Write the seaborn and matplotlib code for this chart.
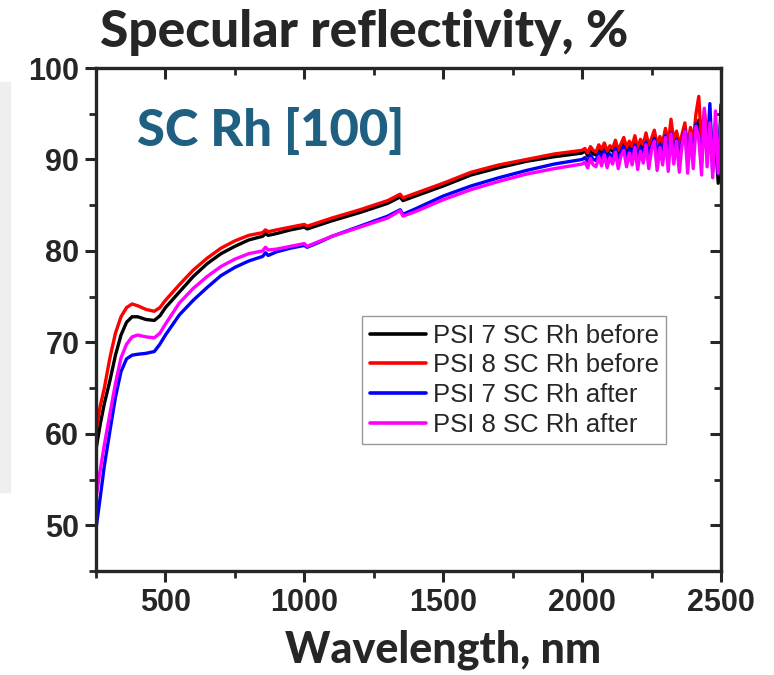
import pandas as pd
import matplotlib.pyplot as plt
import seaborn as sns
from matplotlib.patches import Rectangle
from matplotlib.ticker import MultipleLocator

# Wavelength grid (nm): smooth part, then the noisy tail
wavelength = [250, 265, 280, 300, 320, 340, 360, 380, 400, 430, 460, 480, 500, 550, 600,
              650, 700, 750, 800, 850, 860, 870, 900, 950, 1000, 1010, 1050, 1100, 1200,
              1300, 1345, 1355, 1400, 1500, 1600, 1700, 1800, 1900, 2000,
              2010, 2020, 2030, 2040, 2050, 2060, 2070, 2080, 2090, 2100,
              2110, 2120, 2130, 2140, 2150, 2160, 2170, 2180, 2190, 2200,
              2210, 2220, 2230, 2240, 2250, 2260, 2270, 2280, 2290, 2300,
              2310, 2320, 2330, 2340, 2350, 2360, 2370, 2380, 2390, 2400,
              2410, 2420, 2430, 2440, 2450, 2460, 2470, 2480, 2490, 2500]

psi7_before = [58.3, 61.0, 63.3, 65.8, 68.6, 70.8, 72.2, 72.8, 72.8, 72.5, 72.4, 72.9, 73.8, 75.5, 77.2,
               78.6, 79.7, 80.5, 81.2, 81.6, 81.9, 81.7, 81.9, 82.3, 82.6, 82.4, 82.8, 83.3, 84.2,
               85.2, 85.9, 85.5, 86.0, 87.1, 88.3, 89.1, 89.8, 90.3, 90.7,
               91.0, 90.4, 91.1, 90.6, 90.5, 91.3, 90.7, 91.5, 90.6, 91.2,
               90.9, 91.8, 90.7, 91.4, 92.0, 91.0, 91.7, 91.0, 92.2, 90.9,
               91.9, 91.3, 92.5, 91.1, 92.0, 92.8, 91.2, 92.1, 91.4, 93.0,
               91.3, 93.2, 91.6, 92.7, 91.1, 92.4, 93.3, 91.0, 93.0, 91.4,
               93.8, 94.3, 90.8, 94.0, 91.0, 93.5, 89.6, 92.0, 87.4, 96.0]

psi8_before = [60.3, 63.0, 65.0, 68.3, 71.0, 72.8, 73.8, 74.2, 74.0, 73.6, 73.4, 73.8, 74.6, 76.3, 77.9,
               79.2, 80.3, 81.1, 81.7, 82.0, 82.3, 82.1, 82.3, 82.6, 82.9, 82.7, 83.1, 83.6, 84.5,
               85.5, 86.2, 85.8, 86.3, 87.4, 88.6, 89.4, 90.0, 90.6, 91.0,
               91.2, 90.7, 91.4, 91.0, 90.8, 91.6, 91.1, 91.8, 90.9, 91.5,
               91.2, 92.1, 91.0, 91.7, 92.4, 91.3, 92.0, 91.4, 92.6, 91.2,
               92.2, 91.6, 92.9, 91.5, 92.3, 93.2, 91.6, 92.5, 91.8, 93.4,
               91.7, 94.4, 92.0, 93.1, 91.5, 92.8, 94.0, 91.4, 93.5, 92.0,
               95.0, 96.9, 91.6, 95.4, 92.3, 94.6, 90.2, 93.8, 89.3, 91.0]

psi7_after = [49.6, 53.0, 56.5, 60.3, 64.0, 66.8, 68.2, 68.6, 68.7, 68.8, 69.0, 69.8, 70.8, 73.0, 74.6,
              76.0, 77.3, 78.2, 78.9, 79.4, 79.8, 79.5, 79.9, 80.3, 80.6, 80.4, 80.9, 81.6, 82.7,
              83.8, 84.5, 84.0, 84.6, 86.0, 87.1, 88.0, 88.8, 89.5, 90.0,
              90.2, 89.8, 90.5, 90.0, 89.9, 90.7, 90.1, 90.9, 90.0, 90.6,
              90.2, 91.2, 90.0, 90.8, 91.4, 90.2, 91.1, 90.4, 91.6, 90.1,
              91.3, 90.6, 91.9, 90.3, 91.4, 92.3, 90.5, 91.6, 90.6, 92.6,
              90.4, 92.9, 90.8, 92.2, 90.2, 91.9, 93.2, 89.8, 92.8, 90.5,
              93.9, 92.6, 89.6, 94.2, 90.4, 96.1, 88.6, 94.0, 88.4, 95.0]

psi8_after = [53.0, 56.0, 58.8, 62.2, 65.5, 68.3, 69.8, 70.6, 70.8, 70.6, 70.5, 71.0, 72.0, 74.3, 75.9,
              77.2, 78.3, 79.1, 79.7, 80.0, 80.4, 80.1, 80.2, 80.5, 80.8, 80.5, 81.0, 81.6, 82.6,
              83.6, 84.4, 83.8, 84.3, 85.6, 86.7, 87.6, 88.4, 89.0, 89.5,
              89.7, 89.1, 90.1, 89.4, 89.2, 90.3, 89.3, 90.5, 89.1, 90.2,
              89.5, 90.8, 89.0, 90.4, 91.0, 89.2, 90.7, 89.4, 91.3, 88.9,
              90.9, 89.6, 91.6, 89.0, 91.1, 92.0, 88.8, 91.3, 89.4, 92.4,
              88.7, 92.8, 89.5, 92.0, 88.6, 91.7, 93.1, 88.5, 92.9, 89.0,
              93.6, 92.4, 88.3, 95.6, 89.2, 94.0, 88.0, 95.3, 88.5, 94.0]

labels = ['PSI 7 SC Rh before', 'PSI 8 SC Rh before', 'PSI 7 SC Rh after', 'PSI 8 SC Rh after']
colors = ['#000000', '#ff0000', '#0000ff', '#ff00ff']

rows = []
for lab, vals in zip(labels, [psi7_before, psi8_before, psi7_after, psi8_after]):
    for w, v in zip(wavelength, vals):
        rows.append({'wl': w, 'R': v, 'sample': lab})
df = pd.DataFrame(rows)

sns.set_style('ticks')
plt.rcParams['font.family'] = ['Liberation Sans', 'DejaVu Sans']

fig = plt.figure(figsize=(7.74, 6.75), dpi=100)
ax = fig.add_axes([96 / 774, 1 - 571 / 675, 625 / 774, 503 / 675])

# faint grey strip at the left edge of the slide
fig.patches.append(Rectangle((0, 1 - 492 / 675), 10 / 774, 410 / 675,
                             transform=fig.transFigure, color='#efefef', zorder=0))

sns.lineplot(data=df, x='wl', y='R', hue='sample', hue_order=labels, palette=colors,
             estimator=None, sort=False, linewidth=2.4, ax=ax, legend=False)

ax.set_xlim(250, 2500)
ax.set_ylim(45, 100)
ax.xaxis.set_major_locator(MultipleLocator(500))
ax.xaxis.set_minor_locator(MultipleLocator(250))
ax.yaxis.set_major_locator(MultipleLocator(10))
ax.yaxis.set_minor_locator(MultipleLocator(5))
ax.tick_params(which='major', direction='out', length=8, width=2.2, labelsize=22, pad=4)
ax.tick_params(which='minor', direction='out', length=5, width=2.0)
for lab in ax.get_xticklabels() + ax.get_yticklabels():
    lab.set_fontweight('bold')
for s in ax.spines.values():
    s.set_linewidth(2.4)
    s.set_visible(True)

# inward ticks on the top and right edges
top = ax.secondary_xaxis('top')
top.xaxis.set_major_locator(MultipleLocator(500))
top.xaxis.set_minor_locator(MultipleLocator(250))
top.tick_params(which='major', direction='in', length=8, width=2.2, labeltop=False)
top.tick_params(which='minor', direction='in', length=5, width=2.0)
right = ax.secondary_yaxis('right')
right.yaxis.set_major_locator(MultipleLocator(10))
right.yaxis.set_minor_locator(MultipleLocator(5))
right.tick_params(which='major', direction='in', length=8, width=2.2, labelright=False)
right.tick_params(which='minor', direction='in', length=5, width=2.0)

ax.set_xlabel('')
ax.set_ylabel('')

handles = [plt.Line2D([], [], color=c, linewidth=2.6) for c in colors]
leg = ax.legend(handles, labels, loc='upper left', bbox_to_anchor=(0.4256, 0.507),
                borderaxespad=0, fontsize=18.5, frameon=True, fancybox=False,
                handlelength=2.2, handletextpad=0.25, labelspacing=0.22,
                borderpad=0.3)
leg.get_frame().set_edgecolor('#808080')
leg.get_frame().set_linewidth(1.0)

ax.text(0.065, 0.845, 'SC Rh [100]', transform=ax.transAxes, fontsize=36.5,
        fontweight='black', color='#1f5f82', family=['Lato', 'DejaVu Sans'])

fig.text(364 / 774, 1 - 32 / 675, 'Specular reflectivity, %', ha='center', va='center',
         fontsize=37, fontweight='black', family=['Lato', 'DejaVu Sans'])
fig.text(443 / 774, 1 - 650 / 675, 'Wavelength, nm', ha='center', va='center',
         fontsize=31, fontweight='black', family=['Lato', 'DejaVu Sans'])

fig.savefig('out.png', dpi=100)
